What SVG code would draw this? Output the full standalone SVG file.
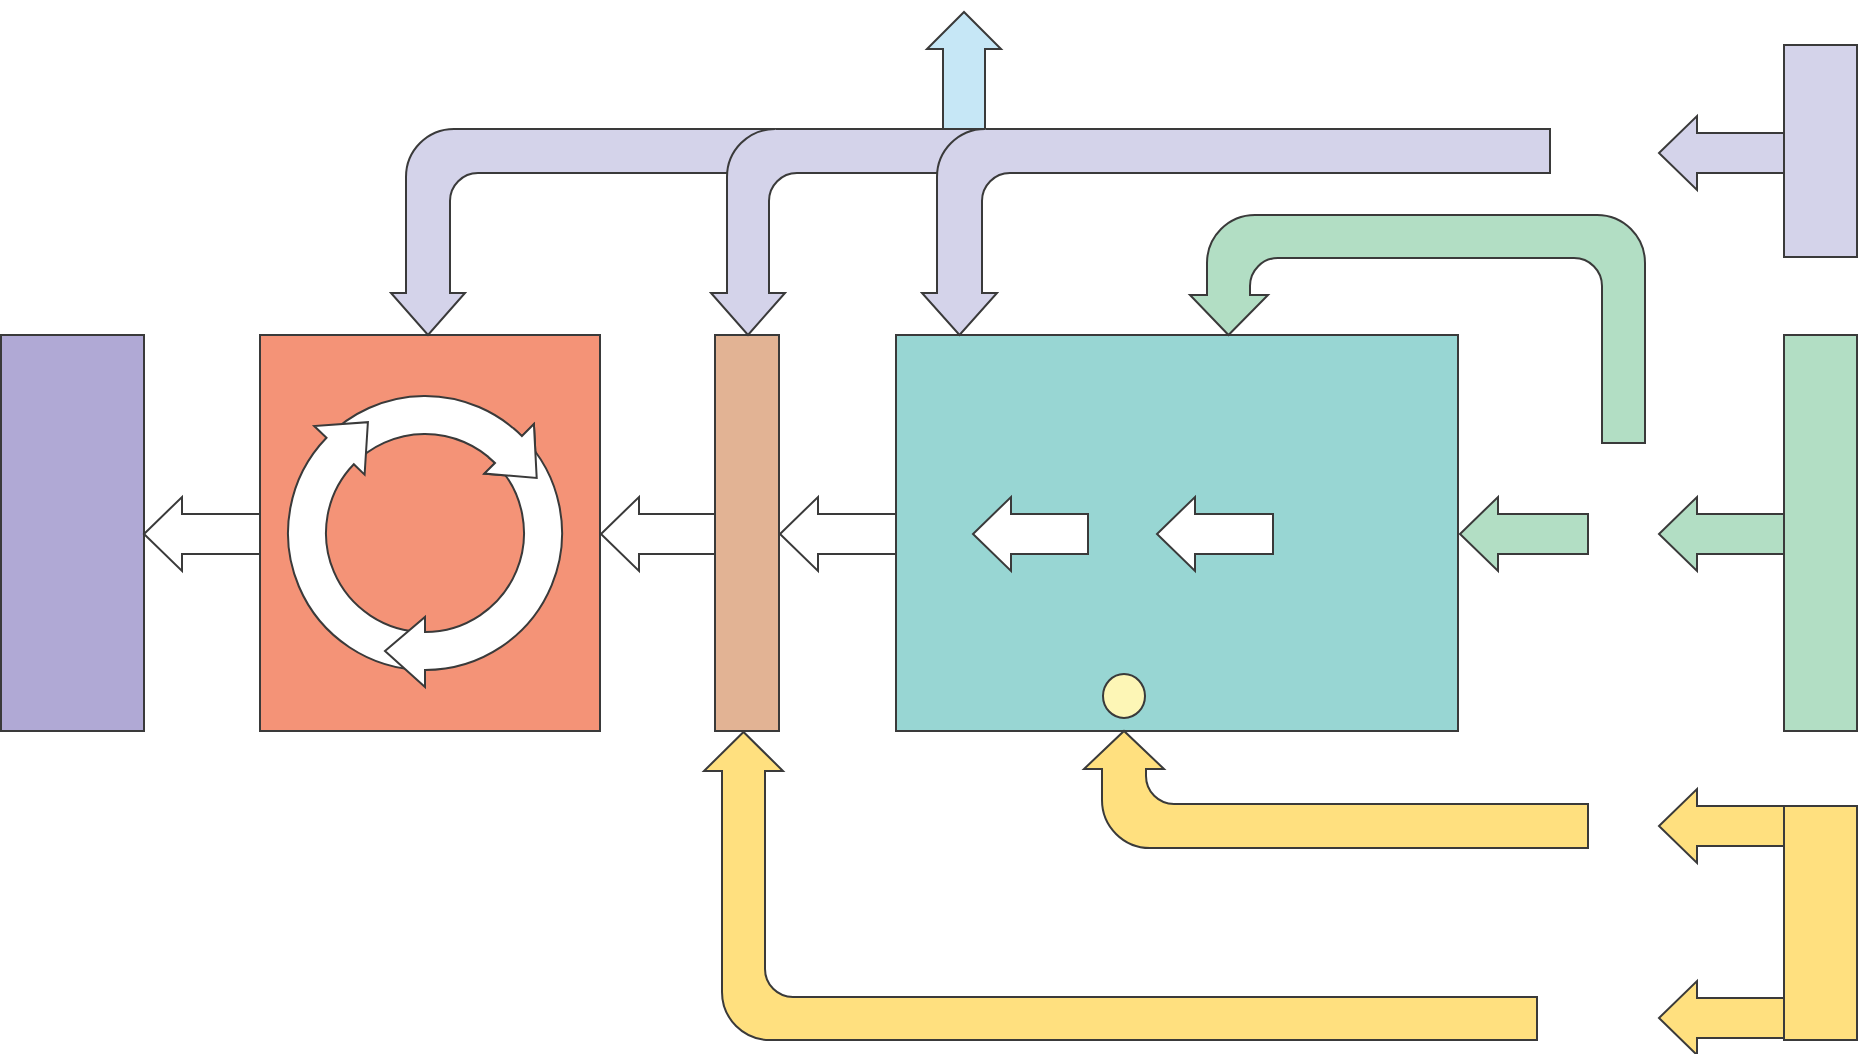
<svg xmlns="http://www.w3.org/2000/svg" width="1863" height="1054" viewBox="0 0 1863 1054">
<style>
.s{stroke:#3a3a3a;stroke-width:2;stroke-linejoin:miter}
.purple{fill:#b0a9d5}.red{fill:#f49377}.tan{fill:#e2b394}.teal{fill:#98d6d3}
.lav{fill:#d4d3ea}.green{fill:#b2dec4}.yellow{fill:#ffe07f}.pale{fill:#fdf6b6}
.blue{fill:#c6e7f6}.white{fill:#ffffff}
</style>
<rect width="1863" height="1054" fill="#ffffff"/>
<g id="node-left">
<rect class="s purple" x="1" y="335" width="143" height="396"/>
</g>
<g id="node-red">
<rect class="s red" x="260" y="335" width="340" height="396"/>
<path class="s white" d="M353.8,464.2 A99,99 0 0 1 495,463 L484.4,473.6 L536.7,477.9 L533.9,424.1 L521.9,436.1 A137,137 0 0 0 326.5,437.8 Z"/>
<path class="s white" d="M425,632 A99,99 0 0 1 353.8,464.2 L364.6,474.6 L367.9,422.2 L314.2,426 L326.5,437.8 A137,137 0 0 0 425,670 Z"/>
<path class="s white" d="M495,463 A99,99 0 0 1 425,632 L425,617 L385,651 L425,687 L425,670 A137,137 0 0 0 521.9,436.1 Z"/>
<path class="s white" d="M488.6,457.2 A99,99 0 0 1 495,463 L484.4,473.6 L536.7,477.9 L533.9,424.1 L521.9,436.1 A137,137 0 0 0 513.1,428.1"/>
</g>
<g id="node-tan">
<rect class="s tan" x="715" y="335" width="64" height="396"/>
</g>
<g id="node-teal">
<rect class="s teal" x="896" y="335" width="562" height="396"/>
<path class="s white" d="M1088,514 L1011,514 L1011,497 L973,534 L1011,571 L1011,554 L1088,554 Z"/>
<path class="s white" d="M1273,514 L1195,514 L1195,497 L1157,534 L1195,571 L1195,554 L1273,554 Z"/>
</g>
<g id="node-sensor">
<ellipse class="s pale" cx="1124" cy="696" rx="21" ry="22"/>
</g>
<g id="node-lav-right">
<rect class="s lav" x="1784" y="45" width="73" height="212"/>
</g>
<g id="node-green-right">
<rect class="s green" x="1784" y="335" width="73" height="396"/>
</g>
<g id="node-yellow-right">
<rect class="s yellow" x="1784" y="806" width="73" height="234"/>
</g>
<g id="connectors">
<path class="s blue" d="M943,129 L943,49 L927,49 L964,12 L1001,49 L985,49 L985,129 Z"/>
<path class="s lav" d="M1550,129 L454,129 A48,48 0 0 0 406,177 L406,293 L391,293 L428,335 L465,293 L450,293 L450,201 A28,28 0 0 1 478,173 L1550,173 Z"/>
<path class="s lav" d="M775,129 A48,48 0 0 0 727,177 L727,293 L711,293 L748,335 L785,293 L769,293 L769,201 A28,28 0 0 1 797,173"/>
<path class="s lav" d="M985,129 A48,48 0 0 0 937,177 L937,293 L922,293 L959.5,335 L997,293 L982,293 L982,201 A28,28 0 0 1 1010,173"/>
<path class="s lav" d="M1784,133 L1697,133 L1697,116 L1659,153 L1697,190 L1697,173 L1784,173 Z"/>
<path class="s green" d="M1602,443 L1602,286 A28,28 0 0 0 1574,258 L1278,258 A28,28 0 0 0 1250,286 L1250,295 L1268,295 L1228.5,335 L1190,295 L1207,295 L1207,263 A48,48 0 0 1 1255,215 L1597,215 A48,48 0 0 1 1645,263 L1645,443 Z"/>
<path class="s green" d="M1588,514 L1498,514 L1498,497 L1460,534 L1498,571 L1498,554 L1588,554 Z"/>
<path class="s green" d="M1784,514 L1697,514 L1697,497 L1659,534 L1697,571 L1697,554 L1784,554 Z"/>
<path class="s white" d="M260,514 L182,514 L182,497 L144,534 L182,571 L182,554 L260,554 Z"/>
<path class="s white" d="M715,514 L639,514 L639,497 L601,534 L639,571 L639,554 L715,554 Z"/>
<path class="s white" d="M896,514 L818,514 L818,497 L780,534 L818,571 L818,554 L896,554 Z"/>
<path class="s yellow" d="M1588,804 L1174,804 A28,28 0 0 1 1146,776 L1146,769 L1164,769 L1124,731 L1084,769 L1102,769 L1102,800 A48,48 0 0 0 1150,848 L1588,848 Z"/>
<path class="s yellow" d="M1537,997 L793,997 A28,28 0 0 1 765,969 L765,771 L783,771 L743.5,732 L704,771 L722,771 L722,992 A48,48 0 0 0 770,1040 L1537,1040 Z"/>
<path class="s yellow" d="M1784,806 L1697,806 L1697,789 L1659,826 L1697,863 L1697,846 L1784,846 Z"/>
<path class="s yellow" d="M1784,998 L1697,998 L1697,981 L1659,1018 L1697,1055 L1697,1038 L1784,1038 Z"/>
</g>
</svg>
